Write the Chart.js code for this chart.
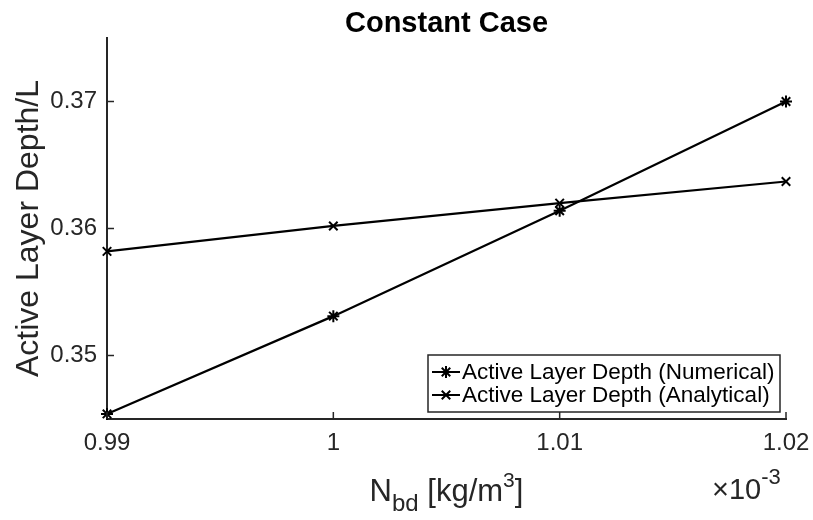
<!DOCTYPE html>
<html>
<head>
<meta charset="utf-8">
<script src="https://cdn.jsdelivr.net/npm/chart.js@4.4.1/dist/chart.umd.min.js"></script>
<style>
  html, body { margin: 0; padding: 0; background: #fff; }
  #wrap { width: 813px; height: 520px; }
</style>
</head>
<body>
<div id="wrap"><canvas id="grafico"></canvas></div>
<script>
// dados do gráfico
var nbdValues = [0.99, 1.00, 1.01, 1.02];          // eixo x (x10^-3)
var depthNumerical = [0.3454, 0.3531, 0.3614, 0.3700];
var depthAnalytical = [0.3582, 0.3602, 0.3620, 0.3637];
var xTicks = [0.99, 1.00, 1.01, 1.02];
var yTicks = [0.35, 0.36, 0.37];
var seriesNames = ['Active Layer Depth (Numerical)', 'Active Layer Depth (Analytical)'];

var FONT = '"Liberation Sans", Arial, Helvetica, sans-serif';
var AXIS_COLOR = '#262626';

function toPoints(xs, ys){
  return xs.map(function(x, i){ return {x: x, y: ys[i]}; });
}

function fmtTick(v){
  return Math.abs(v - 1) < 1e-9 ? '1' : v.toFixed(2);
}

// desenha ticks internos, títulos, multiplicador e legenda
var extras = {
  id: 'extras',
  afterDraw: function(chart){
    var ctx = chart.ctx;
    var area = chart.chartArea;
    var xs = chart.scales.x, ys = chart.scales.y;
    ctx.save();

    // ticks para dentro (estilo matlab)
    ctx.strokeStyle = AXIS_COLOR;
    ctx.lineWidth = 1.5;
    xTicks.forEach(function(t){
      var px = xs.getPixelForValue(t);
      ctx.beginPath(); ctx.moveTo(px, area.bottom); ctx.lineTo(px, area.bottom - 7); ctx.stroke();
    });
    yTicks.forEach(function(t){
      var py = ys.getPixelForValue(t);
      ctx.beginPath(); ctx.moveTo(area.left, py); ctx.lineTo(area.left + 7, py); ctx.stroke();
    });

    var cx = (area.left + area.right) / 2;

    // título
    ctx.fillStyle = '#000';
    ctx.font = 'bold 29px ' + FONT;
    ctx.textAlign = 'center';
    ctx.textBaseline = 'alphabetic';
    ctx.fillText('Constant Case', cx, 32);

    // rótulo do eixo y
    ctx.fillStyle = AXIS_COLOR;
    ctx.save();
    ctx.translate(38, (area.top + area.bottom) / 2);
    ctx.rotate(-Math.PI / 2);
    ctx.font = '32px ' + FONT;
    ctx.fillText('Active Layer Depth/L', 0, 0);
    ctx.restore();

    // rótulo do eixo x com subscrito e sobrescrito
    var base = 501;
    var parts = [
      {t: 'N', f: '31px ', dy: 0},
      {t: 'bd', f: '24px ', dy: 10},
      {t: ' [kg/m', f: '31px ', dy: 0},
      {t: '3', f: '21px ', dy: -14},
      {t: ']', f: '31px ', dy: 0}
    ];
    var total = 0;
    parts.forEach(function(p){ ctx.font = p.f + FONT; p.w = ctx.measureText(p.t).width; total += p.w; });
    var x0 = cx - total / 2;
    ctx.textAlign = 'left';
    parts.forEach(function(p){
      ctx.font = p.f + FONT;
      ctx.fillText(p.t, x0, base + p.dy);
      x0 += p.w;
    });

    // multiplicador x10^-3
    ctx.font = '29px ' + FONT;
    var mx = 712;
    ctx.fillText('\u00d710', mx, 499);
    var mw = ctx.measureText('\u00d710').width;
    ctx.font = '22px ' + FONT;
    ctx.fillText('-3', mx + mw, 484);

    // legenda
    var lx = 428, ly = 355, lw = 352, lh = 57;
    ctx.fillStyle = '#fff';
    ctx.fillRect(lx, ly, lw, lh);
    ctx.strokeStyle = AXIS_COLOR;
    ctx.lineWidth = 1.5;
    ctx.strokeRect(lx, ly, lw, lh);
    ctx.font = '22.5px ' + FONT;
    ctx.textBaseline = 'middle';
    chart.data.datasets.forEach(function(ds, i){
      var yy = ly + 17 + i * 23;
      ctx.strokeStyle = '#000';
      ctx.lineWidth = 2;
      ctx.beginPath(); ctx.moveTo(lx + 4, yy); ctx.lineTo(lx + 32, yy); ctx.stroke();
      Chart.helpers.drawPoint(ctx, {pointStyle: ds.pointStyle, radius: 6, borderWidth: 2}, lx + 18, yy);
      ctx.fillStyle = '#000';
      ctx.fillText(ds.label, lx + 34, yy + 1);
    });

    ctx.restore();
  }
};

var ctx = document.getElementById('grafico').getContext('2d');
var grafico = new Chart(ctx, {
  type: 'line',
  data: {
    datasets: [{
      label: seriesNames[0],
      data: toPoints(nbdValues, depthNumerical),
      borderColor: '#000',
      backgroundColor: '#000',
      borderWidth: 2.2,
      pointStyle: 'star',
      pointRadius: 6,
      pointBorderWidth: 2,
      tension: 0,
      clip: false
    }, {
      label: seriesNames[1],
      data: toPoints(nbdValues, depthAnalytical),
      borderColor: '#000',
      backgroundColor: '#000',
      borderWidth: 2.2,
      pointStyle: 'crossRot',
      pointRadius: 6,
      pointBorderWidth: 2,
      tension: 0,
      clip: false
    }]
  },
  options: {
    responsive: true,
    maintainAspectRatio: false,
    animation: false,
    layout: { padding: { top: 38, right: 27, bottom: 0, left: 0 } },
    plugins: {
      legend: { display: false },
      tooltip: { enabled: false },
      title: { display: false }
    },
    scales: {
      x: {
        type: 'linear',
        min: 0.99,
        max: 1.02,
        afterBuildTicks: function(s){ s.ticks = xTicks.map(function(v){ return {value: v}; }); },
        afterFit: function(s){ s.height = 101; s.paddingLeft = 0; s.paddingRight = 0; },
        grid: { display: true, drawOnChartArea: false, drawTicks: false },
        border: { display: true, color: AXIS_COLOR, width: 2 },
        ticks: {
          padding: 10,
          color: AXIS_COLOR,
          font: { family: FONT, size: 24 },
          maxRotation: 0,
          callback: function(v){ return fmtTick(v); }
        }
      },
      y: {
        type: 'linear',
        min: 0.345,
        max: 0.375,
        afterBuildTicks: function(s){ s.ticks = yTicks.map(function(v){ return {value: v}; }); },
        afterFit: function(s){ s.width = 107; s.paddingTop = 0; s.paddingBottom = 0; },
        grid: { display: true, drawOnChartArea: false, drawTicks: false },
        border: { display: true, color: AXIS_COLOR, width: 2 },
        ticks: {
          padding: 10,
          color: AXIS_COLOR,
          font: { family: FONT, size: 24 },
          callback: function(v){ return fmtTick(v); }
        }
      }
    }
  },
  plugins: [extras]
});
</script>
</body>
</html>
